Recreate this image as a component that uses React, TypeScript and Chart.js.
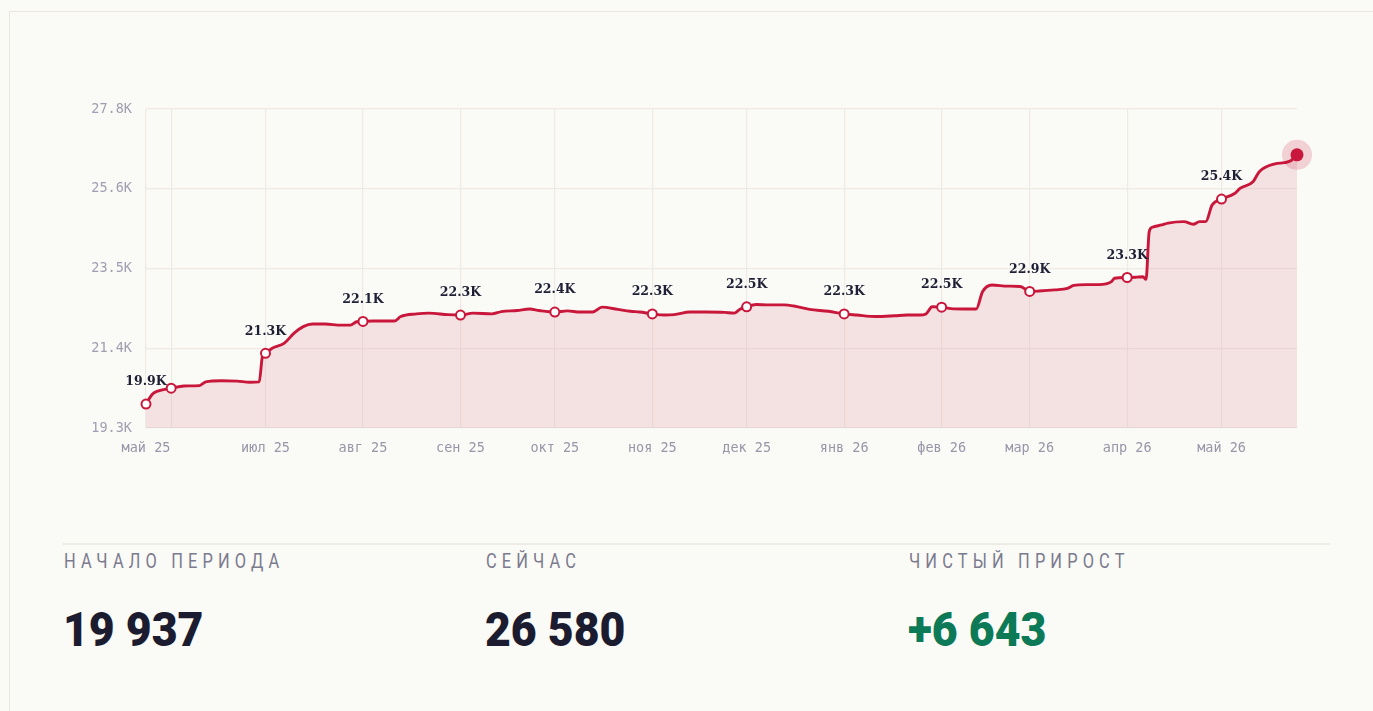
import React, { useEffect, useRef } from 'react';
import { Chart, registerables } from 'chart.js';

Chart.register(...registerables);

const START = '2025-05-24';

const dates = [
  '2025-05-24', '2025-05-26', '2025-05-28', '2025-06-01', '2025-06-05', '2025-06-10', '2025-06-12',
  '2025-06-17', '2025-06-22', '2025-06-26', '2025-06-29', '2025-06-30', '2025-07-01', '2025-07-03',
  '2025-07-07', '2025-07-10', '2025-07-13', '2025-07-16', '2025-07-20', '2025-07-25', '2025-07-28',
  '2025-07-30', '2025-08-01', '2025-08-04', '2025-08-11', '2025-08-13', '2025-08-18', '2025-08-22',
  '2025-08-28', '2025-09-01', '2025-09-05', '2025-09-11', '2025-09-14', '2025-09-19', '2025-09-23',
  '2025-09-26', '2025-10-01', '2025-10-05', '2025-10-09', '2025-10-13', '2025-10-16', '2025-10-21',
  '2025-10-25', '2025-10-28', '2025-11-01', '2025-11-05', '2025-11-08', '2025-11-13', '2025-11-18',
  '2025-11-24', '2025-11-27', '2025-11-29', '2025-12-01', '2025-12-04', '2025-12-08', '2025-12-13',
  '2025-12-16', '2025-12-21', '2025-12-27', '2026-01-01', '2026-01-05', '2026-01-11', '2026-01-17',
  '2026-01-21', '2026-01-25', '2026-01-27', '2026-01-29', '2026-02-01', '2026-02-04', '2026-02-08',
  '2026-02-12', '2026-02-14', '2026-02-17', '2026-02-22', '2026-02-26', '2026-03-01', '2026-03-04',
  '2026-03-09', '2026-03-13', '2026-03-15', '2026-03-19', '2026-03-23', '2026-03-27', '2026-03-28',
  '2026-04-01', '2026-04-04', '2026-04-06', '2026-04-07', '2026-04-08', '2026-04-09', '2026-04-12',
  '2026-04-14', '2026-04-19', '2026-04-22', '2026-04-24', '2026-04-26', '2026-04-28', '2026-05-01',
  '2026-05-05', '2026-05-07', '2026-05-11', '2026-05-13', '2026-05-18', '2026-05-21', '2026-05-23',
  '2026-05-25',
];

const values = [
  19937, 20200, 20290, 20360, 20420, 20430, 20530,
  20560, 20550, 20520, 20530, 21200, 21290, 21420,
  21560, 21820, 22000, 22070, 22070, 22040, 22040,
  22130, 22140, 22150, 22150, 22270, 22340, 22360,
  22320, 22310, 22360, 22340, 22400, 22430, 22470,
  22430, 22390, 22420, 22390, 22390, 22520, 22460,
  22410, 22390, 22340, 22310, 22320, 22390, 22390,
  22380, 22360, 22470, 22530, 22590, 22580, 22580,
  22550, 22460, 22410, 22340, 22310, 22270, 22290,
  22310, 22310, 22340, 22530, 22520, 22480, 22470,
  22470, 22930, 23110, 23080, 23070, 22940, 22950,
  22980, 23020, 23100, 23120, 23120, 23200, 23290,
  23310, 23320, 23330, 23260, 24530, 24650, 24710,
  24760, 24800, 24730, 24800, 24800, 25240, 25400,
  25540, 25690, 25860, 26130, 26340, 26370, 26420,
  26580,
];

const monthTickDates = [
  '2025-05-24', '2025-06-01', '2025-07-01', '2025-08-01', '2025-09-01', '2025-10-01', '2025-11-01',
  '2025-12-01', '2026-01-01', '2026-02-01', '2026-03-01', '2026-04-01', '2026-05-01',
];
const monthTickLabels = [
  'май 25', '', 'июл 25', 'авг 25', 'сен 25', 'окт 25', 'ноя 25',
  'дек 25', 'янв 26', 'фев 26', 'мар 26', 'апр 26', 'май 26',
];
const markerDates = monthTickDates;
const labeledDates = monthTickDates.filter((d) => d !== '2025-06-01');

const yTickLabels = ['19.3K', '21.4K', '23.5K', '25.6K', '27.8K'];
const Y_MIN = 19300;
const Y_MAX = 27800;

const statLabels = ['НАЧАЛО ПЕРИОДА', 'СЕЙЧАС', 'ЧИСТЫЙ ПРИРОСТ'];

const RED = '#c8173a';
const GRID = '#efebe4';
const BG = '#fafaf6';
const MONO = '"DejaVu Sans Mono", monospace';
const SANS = 'Roboto, "Noto Sans", sans-serif';

const dayOf = (s: string) => Math.round((Date.parse(s) - Date.parse(START)) / 86400000);
const fmtK = (v: number) => (v / 1000).toFixed(1) + 'K';
const fmtNum = (v: number) => Math.abs(v).toString().replace(/\B(?=(\d{3})+(?!\d))/g, ' ');

export default function App() {
  const canvasRef = useRef<HTMLCanvasElement | null>(null);

  useEffect(() => {
    const canvas = canvasRef.current;
    if (!canvas) return;
    const points = dates.map((d, i) => ({ x: dayOf(d), y: values[i] }));
    const markerSet = new Set(markerDates.map(dayOf));
    const labeledSet = new Set(labeledDates.map(dayOf));
    const lastDay = dayOf(dates[dates.length - 1]);

    const overlay = {
      id: 'overlay',
      afterDatasetsDraw(chart: any) {
        const meta = chart.getDatasetMeta(0);
        const ctx = chart.ctx;
        ctx.save();
        const last = meta.data[meta.data.length - 1];
        ctx.beginPath();
        ctx.arc(last.x, last.y, 15, 0, Math.PI * 2);
        ctx.fillStyle = 'rgba(200,23,58,0.18)';
        ctx.fill();
        ctx.beginPath();
        ctx.arc(last.x, last.y, 6.5, 0, Math.PI * 2);
        ctx.fillStyle = RED;
        ctx.fill();
        ctx.font = 'bold 12.5px "DejaVu Serif", serif';
        ctx.fillStyle = '#1e1e34';
        ctx.textAlign = 'center';
        ctx.textBaseline = 'middle';
        points.forEach((p, i) => {
          if (labeledSet.has(p.x)) {
            const el = meta.data[i];
            ctx.fillText(fmtK(values[i]), el.x, el.y - 22);
          }
        });
        ctx.restore();
      },
    };

    const chart = new Chart(canvas, {
      type: 'line',
      data: {
        datasets: [
          {
            data: points,
            borderColor: RED,
            borderWidth: 2.9,
            backgroundColor: 'rgba(200,23,58,0.1)',
            fill: 'start',
            cubicInterpolationMode: 'monotone',
            pointRadius: (c: any) => (c.raw && markerSet.has(c.raw.x) ? 4.5 : 0),
            pointHoverRadius: 0,
            pointBackgroundColor: '#ffffff',
            pointBorderColor: RED,
            pointBorderWidth: 2,
            clip: false as any,
          },
        ],
      },
      options: {
        animation: false,
        responsive: true,
        maintainAspectRatio: false,
        events: [],
        layout: { padding: { top: 49, right: 30, left: 0, bottom: 0 } },
        plugins: { legend: { display: false }, tooltip: { enabled: false } },
        scales: {
          x: {
            type: 'linear',
            min: 0,
            max: lastDay,
            afterBuildTicks: (s: any) => {
              s.ticks = monthTickDates.map((d) => ({ value: dayOf(d) }));
            },
            afterFit: (s: any) => {
              s.height = 52;
            },
            ticks: {
              autoSkip: false,
              maxRotation: 0,
              padding: 12,
              color: '#9896a8',
              font: { family: MONO, size: 13.5 },
              callback: (_v: any, i: number) => monthTickLabels[i],
            },
            grid: { color: GRID, drawTicks: false, lineWidth: 1.2 },
            border: { display: false },
          },
          y: {
            min: Y_MIN,
            max: Y_MAX,
            afterBuildTicks: (s: any) => {
              s.ticks = yTickLabels.map((_, i) => ({
                value: Y_MIN + ((Y_MAX - Y_MIN) * i) / (yTickLabels.length - 1),
              }));
            },
            afterFit: (s: any) => {
              s.width = 83;
            },
            ticks: {
              padding: 14,
              color: '#a09eb0',
              font: { family: MONO, size: 13.5 },
              callback: (_v: any, i: number) => yTickLabels[i],
            },
            grid: { color: GRID, drawTicks: false, lineWidth: 1.2 },
            border: { display: false },
          },
        },
      },
      plugins: [overlay],
    } as any);

    return () => chart.destroy();
  }, []);

  const first = values[0];
  const last = values[values.length - 1];
  const net = last - first;
  const statValues = [fmtNum(first), fmtNum(last), (net >= 0 ? '+' : '−') + fmtNum(net)];
  const statColors = ['#1c1c30', '#1c1c30', '#0c7a56'];

  return (
    <div style={{ position: 'fixed', inset: 0, overflow: 'hidden', background: BG }}>
      <div
        style={{
          position: 'absolute',
          left: 9,
          top: 11,
          width: 1375,
          height: 900,
          border: '1px solid #ebe7df',
          boxSizing: 'border-box',
          background: BG,
        }}
      />
      <div style={{ position: 'absolute', left: 63, top: 60, width: 1264, height: 420 }}>
        <canvas ref={canvasRef} />
      </div>
      <div
        style={{
          position: 'absolute',
          left: 63,
          top: 543,
          width: 1267,
          height: 2,
          background: '#eeebe4',
        }}
      />
      {statLabels.map((lab, i) => (
        <React.Fragment key={lab}>
          <div
            style={{
              position: 'absolute',
              left: 64 + i * 422.3,
              top: 551,
              fontFamily: SANS,
              fontSize: 21,
              lineHeight: '21px',
              letterSpacing: '6.6px',
              color: '#7b7a8e',
              whiteSpace: 'nowrap',
              transform: 'scaleX(0.78)',
              transformOrigin: '0 0',
            }}
          >
            {lab}
          </div>
          <div
            style={{
              position: 'absolute',
              left: 63 + i * 422.3,
              top: 606,
              fontFamily: SANS,
              fontSize: 48,
              lineHeight: '48px',
              fontWeight: 900,
              color: statColors[i],
              whiteSpace: 'nowrap',
              transform: 'scaleX(0.93)',
              transformOrigin: '0 0',
            }}
          >
            {statValues[i]}
          </div>
        </React.Fragment>
      ))}
    </div>
  );
}
